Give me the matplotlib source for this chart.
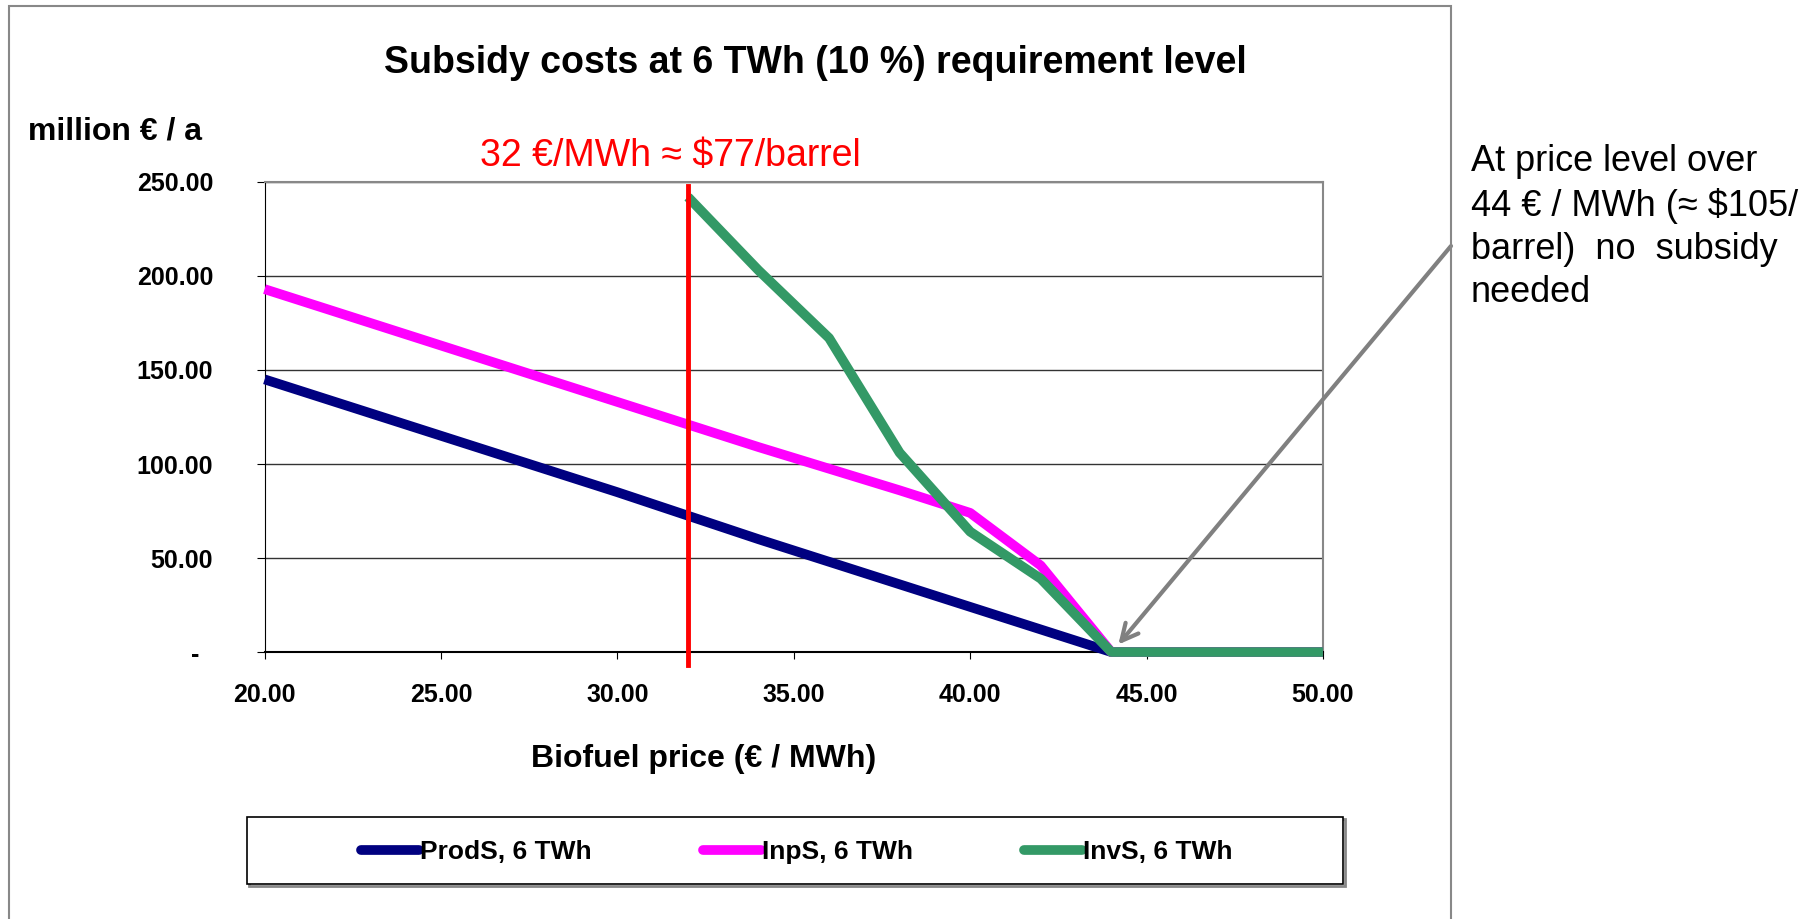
import numpy as np
import matplotlib
matplotlib.use("Agg")
from matplotlib import pyplot as plt
from matplotlib.patches import Rectangle

plt.rcParams['font.family'] = ['Liberation Sans', 'DejaVu Sans']

# biofuel price, EUR/MWh
price = [20, 22, 24, 26, 28, 30, 32, 34, 36, 38, 40, 42, 44, 46, 48, 50]
# subsidy cost, million EUR / a
prods = [145, 133, 121, 109, 97, 85, 72.5, 60, 48, 36, 24, 12, 0, 0, 0, 0]
inps = [193, 181, 169, 157, 145, 133, 121, 109, 97.5, 86, 74, 46, 0, 0, 0, 0]
inv_price = [32, 34, 36, 38, 40, 42, 44, 46, 48, 50]
invs = [242, 203, 167, 106, 64, 39, 0, 0, 0, 0]

ref_price = 32

fig = plt.figure(figsize=(18.2, 9.19), dpi=100)
ax = fig.add_axes([0.1454, 0.2905, 0.5815, 0.5115])

ax.plot(price, prods, color="#000080", lw=7, label="ProdS, 6 TWh", zorder=3,
        solid_capstyle='butt', clip_on=False)
ax.plot(price, inps, color="#FF00FF", lw=7, label="InpS, 6 TWh", zorder=4,
        solid_capstyle='butt', clip_on=False)
ax.plot(inv_price, invs, color="#339966", lw=7, label="InvS, 6 TWh", zorder=5,
        solid_capstyle='butt', clip_on=False)
ax.plot([ref_price, ref_price], [-7, 248], color="#FF0000", lw=3.5, zorder=6, clip_on=False)

ax.set_xlim(20, 50)
ax.set_ylim(0, 250)
ax.set_xticks([20, 25, 30, 35, 40, 45, 50])
ax.set_yticks([0, 50, 100, 150, 200, 250])
ax.set_xticklabels(['%.2f' % v for v in ax.get_xticks()], fontweight='bold', fontsize=18)
ax.set_yticklabels(['-  ' if v == 0 else '%.2f' % v for v in ax.get_yticks()],
                   fontweight='bold', fontsize=18)
ax.tick_params(axis='y', length=6, pad=31, color='black')
ax.tick_params(axis='x', length=5, pad=17, color='black')
ax.yaxis.grid(True, color='#333333', lw=1)
ax.set_axisbelow(True)
for s in ['top', 'right']:
    ax.spines[s].set_color('#888888')
    ax.spines[s].set_linewidth(1.5)
ax.spines['left'].set_color('black')
ax.spines['bottom'].set_color('black')
ax.spines['bottom'].set_linewidth(1.5)

fig.text(815 / 1820, 1 - 63 / 919, "Subsidy costs at 6 TWh (10 %) requirement level",
         ha='center', va='center', fontsize=27, fontweight='bold')
fig.text(28 / 1820, 1 - 131 / 919, "million € / a", ha='left', va='center',
         fontsize=23, fontweight='bold')
fig.text(670 / 1820, 1 - 156 / 919, "32 €/MWh ≈ $77/barrel", ha='center', va='center',
         fontsize=27, color='#FF0000')
fig.text(704 / 1820, 1 - 759 / 919, "Biofuel price (€ / MWh)", ha='center', va='center',
         fontsize=23, fontweight='bold')

fig.text(1471 / 1820, 1 - 144 / 919,
         "At price level over\n44 € / MWh (≈ $105/\nbarrel)  no  subsidy\nneeded",
         ha='left', va='top', fontsize=26, linespacing=1.31)

# arrow to the 44 EUR point
ax.annotate("", xy=(44.2, 4), xycoords='data',
            xytext=(1451 / 1820, 1 - 246 / 919), textcoords='figure fraction',
            arrowprops=dict(arrowstyle='->', color='#808080', lw=3,
                            mutation_scale=30, shrinkA=0, shrinkB=0),
            annotation_clip=False, zorder=7)

# chart frame
fig.patches.append(Rectangle((9 / 1820, -0.01), (1451 - 9) / 1820, 1 - 6 / 919 + 0.01,
                             transform=fig.transFigure, fill=False,
                             edgecolor='#888888', lw=1.5))

# legend box
fig.patches.append(Rectangle((249 / 1820, 1 - 886 / 919), 1096 / 1820, 67 / 919,
                             transform=fig.transFigure, fill=False,
                             edgecolor='#888888', lw=2))
fig.patches.append(Rectangle((247 / 1820, 1 - 884 / 919), 1096 / 1820, 67 / 919,
                             transform=fig.transFigure, facecolor='white',
                             edgecolor='black', lw=1.2))
leg = fig.legend(loc='center', bbox_to_anchor=(797 / 1820, 1 - 852 / 919),
                 ncol=3, frameon=False,
                 prop={'weight': 'bold', 'size': 19}, handlelength=2.2,
                 handletextpad=0.05, columnspacing=4.2)
for h in leg.get_lines():
    h.set_solid_capstyle('round')
    h.set_linewidth(7)

fig.savefig("out.png", dpi=100)
